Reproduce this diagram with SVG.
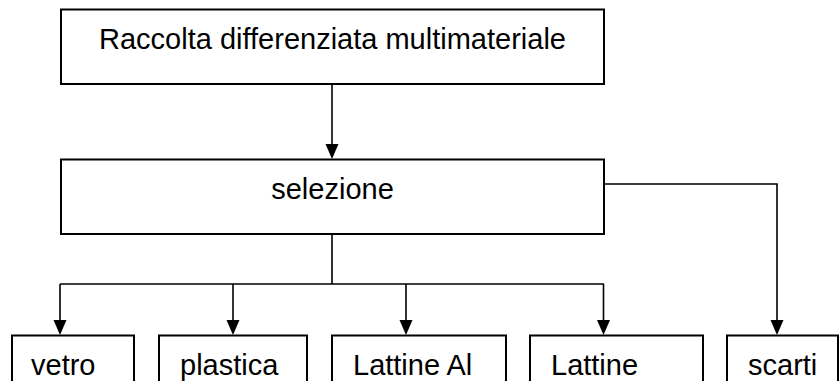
<svg xmlns="http://www.w3.org/2000/svg" width="840" height="381" viewBox="0 0 840 381">
  <style>
    .box { fill: #ffffff; stroke: #000000; stroke-width: 2; }
    .label { font-family: "Liberation Sans", Arial, sans-serif; font-size: 29px; fill: #000000; }
    .wire { fill: none; stroke: #000000; stroke-width: 1.6; }
    .head { fill: #000000; }
  </style>

  <!-- connectors: trunk lines and solid arrowheads -->
  <g id="connectors">
    <path class="wire" d="M332,84 V144"/>
    <path class="wire" d="M332,234 V284 M60,284 H604"/>
    <path class="wire" d="M604,184 H777 V320"/>
    <path class="wire" d="M60,284 V320 M233,284 V320 M406,284 V320 M603.5,284 V320"/>
    <polygon class="head" points="325.5,144 338.5,144 332,159"/>
    <polygon class="head" points="53.5,320 66.5,320 60,335"/>
    <polygon class="head" points="226.5,320 239.5,320 233,335"/>
    <polygon class="head" points="399.5,320 412.5,320 406,335"/>
    <polygon class="head" points="597,320 610,320 603.5,335"/>
    <polygon class="head" points="770.5,320 783.5,320 777,335"/>
  </g>

  <g id="raccolta">
    <rect class="box" x="61" y="9.5" width="543" height="74.5"/>
    <text class="label" x="332.5" y="48.5" text-anchor="middle">Raccolta differenziata multimateriale</text>
  </g>

  <g id="selezione">
    <rect class="box" x="61" y="159.5" width="543" height="74.5"/>
    <text class="label" x="332.5" y="198.5" text-anchor="middle">selezione</text>
  </g>

  <g id="vetro">
    <rect class="box" x="12" y="335.5" width="122" height="70"/>
    <text class="label" x="31" y="374.5">vetro</text>
  </g>

  <g id="plastica">
    <rect class="box" x="159" y="335.5" width="148" height="70"/>
    <text class="label" x="180" y="374.5">plastica</text>
  </g>

  <g id="lattine-al">
    <rect class="box" x="332" y="335.5" width="174" height="70"/>
    <text class="label" x="353" y="374.5">Lattine Al</text>
  </g>

  <g id="lattine">
    <rect class="box" x="530" y="335.5" width="173" height="70"/>
    <text class="label" x="551" y="374.5">Lattine</text>
  </g>

  <g id="scarti">
    <rect class="box" x="727" y="335.5" width="111" height="70"/>
    <text class="label" x="748" y="374.5">scarti</text>
  </g>
</svg>
